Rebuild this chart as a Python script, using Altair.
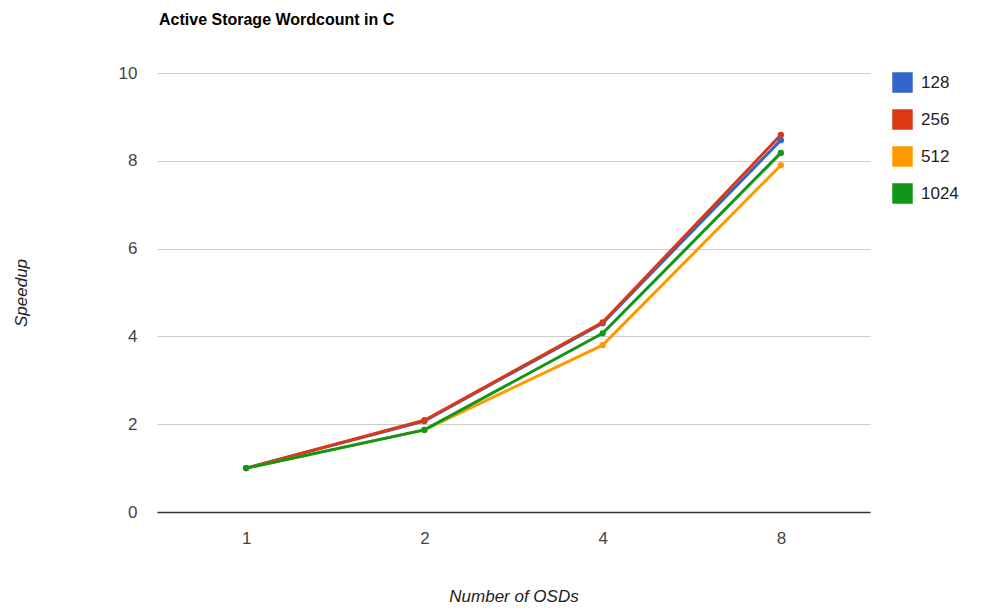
import altair as alt
import pandas as pd

osds = ["1", "2", "4", "8"]
series_names = ["128", "256", "512", "1024"]
s128 = [1.0, 2.07, 4.30, 8.47]
s256 = [1.0, 2.09, 4.32, 8.59]
s512 = [1.0, 1.87, 3.80, 7.90]
s1024 = [1.0, 1.87, 4.07, 8.18]
colors = ["#3366cc", "#dc3912", "#ff9900", "#109618"]

rows = []
for name, vals in zip(series_names, [s128, s256, s512, s1024]):
    for i, (x, v) in enumerate(zip(osds, vals)):
        rows.append({"OSDs": x, "Speedup": v, "series": name, "order": series_names.index(name)})
df = pd.DataFrame(rows)

color = alt.Color(
    "series:N",
    scale=alt.Scale(domain=series_names, range=colors),
    sort=series_names,
    legend=alt.Legend(
        title=None,
        orient="none",
        legendX=735,
        legendY=-1,
        symbolType="square",
        symbolSize=420,
        symbolStrokeWidth=0,
        symbolOpacity=1,
        labelFontSize=17,
        labelFont="Arial",
        labelColor="#222222",
        rowPadding=16,
        labelOffset=8,
    ),
)

x = alt.X(
    "OSDs:N",
    sort=osds,
    scale=alt.Scale(type="point", padding=0.5),
    axis=alt.Axis(
        title="Number of OSDs",
        titleFont="Arial",
        titleFontSize=17,
        titleFontStyle="italic",
        titleFontWeight="normal",
        titleColor="#222222",
        titlePadding=42,
        labelFont="Arial",
        labelFontSize=17,
        labelColor="#444444",
        labelPadding=18,
        labelAngle=0,
        ticks=False,
        domainColor="#333333",
        domainWidth=1.5,
        grid=False,
    ),
)
y = alt.Y(
    "Speedup:Q",
    scale=alt.Scale(domain=[0, 10], nice=False),
    axis=alt.Axis(
        title="Speedup",
        titleFont="Arial",
        titleFontSize=17,
        titleFontStyle="italic",
        titleFontWeight="normal",
        titleColor="#222222",
        titlePadding=88,
        labelFont="Arial",
        labelFontSize=17,
        labelColor="#444444",
        labelPadding=20,
        values=[0, 2, 4, 6, 8, 10],
        ticks=False,
        domain=False,
        gridColor="#cccccc",
        gridWidth=1,
    ),
)

base = alt.Chart(df).encode(x=x, y=y, color=color, order=alt.Order("order:Q"))
lines = base.mark_line(strokeWidth=3)
points = base.mark_circle(size=40, opacity=1)

chart = (
    alt.layer(lines, points)
    .properties(
        width=713,
        height=439,
        padding={"left": 157, "top": 73, "right": 117, "bottom": 104},
        autosize=alt.AutoSizeParams(type="none"),
        view=alt.ViewBackground(stroke="transparent", strokeWidth=0),
        title=alt.TitleParams(
            "Active Storage Wordcount in C",
            anchor="start",
            frame="group",
            font="Arial",
            fontSize=16,
            fontWeight="bold",
            color="#000000",
            offset=36,
            dx=2,
        ),
    )
    .configure_view(stroke="transparent", strokeWidth=0)
    .configure(background="white", style={"cell": {"stroke": "transparent", "strokeWidth": 0}})
)

chart.save("out.html", embed_options={"renderer": "svg", "actions": False})
